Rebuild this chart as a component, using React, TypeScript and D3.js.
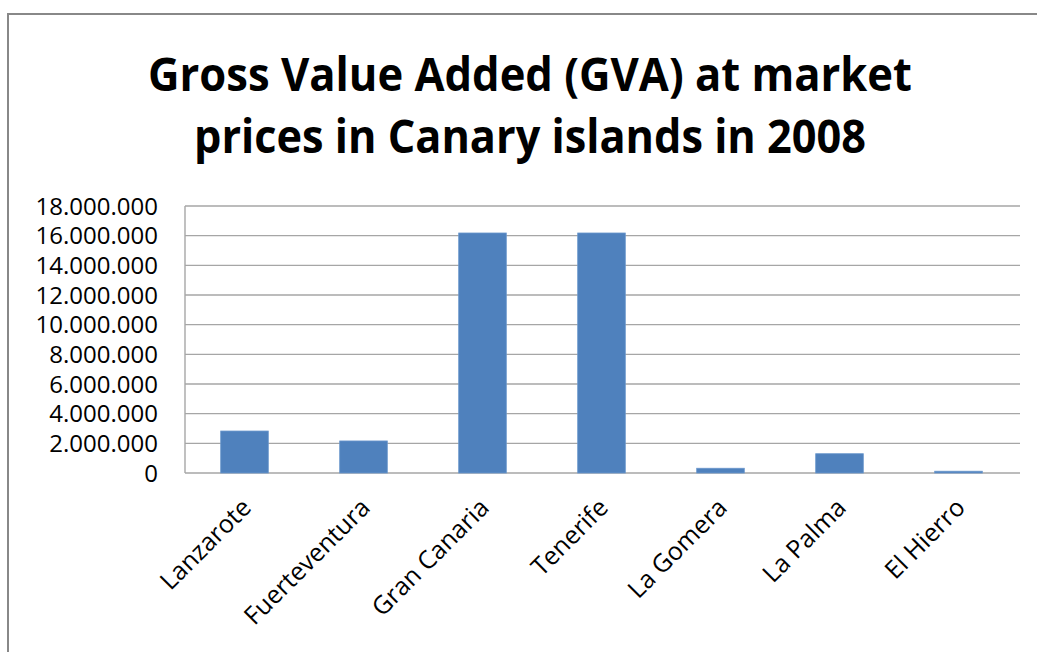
import React from 'react';
import * as d3 from 'd3';

const islands = ['Lanzarote', 'Fuerteventura', 'Gran Canaria', 'Tenerife', 'La Gomera', 'La Palma', 'El Hierro'];
const gva = [2830000, 2160000, 16180000, 16180000, 320000, 1300000, 120000];
const yTicks = [0, 2000000, 4000000, 6000000, 8000000, 10000000, 12000000, 14000000, 16000000, 18000000];
const titleLines = ['Gross Value Added (GVA) at market', 'prices in Canary islands in 2008'];

const W = 1037;
const H = 652;
const plot = { left: 185, right: 1018, top: 206, bottom: 473 };

// thousands with dots, like the Spanish Excel chart
const fmt = (v: number) => d3.format(',')(v).replace(/,/g, '.');

const App: React.FC = () => {
  const x = d3.scaleBand<string>()
    .domain(islands)
    .range([plot.left, plot.right])
    .paddingInner(0.6)
    .paddingOuter(0.3);

  const y = d3.scaleLinear()
    .domain([0, 18000000])
    .range([plot.bottom, plot.top]);

  const font = '"Open Sans", "DejaVu Sans", sans-serif';

  return (
    <svg width={W} height={H} style={{ position: 'absolute', left: 0, top: 0, background: '#fff' }}>
      {/* chart frame, cut off on the right and bottom */}
      <path d={`M8,${H + 5} V14 H${W + 5}`} fill="none" stroke="#888" strokeWidth={2} />

      {titleLines.map((t, i) => (
        <text
          key={i}
          x={530}
          y={91 + i * 62}
          textAnchor="middle"
          fontFamily={font}
          fontWeight="bold"
          fontSize={47}
          textLength={i === 0 ? 764 : 672}
          lengthAdjust="spacingAndGlyphs"
          fill="#000"
        >
          {t}
        </text>
      ))}

      {/* gridlines */}
      {yTicks.map(t => (
        <line key={t} x1={plot.left} x2={1020} y1={y(t)} y2={y(t)} stroke="#a6a6a6" strokeWidth={1.4} />
      ))}
      <line x1={plot.left} x2={plot.left} y1={plot.top} y2={plot.bottom} stroke="#a6a6a6" strokeWidth={1.4} />

      {/* y tick labels */}
      {yTicks.map(t => (
        <text
          key={t}
          x={158}
          y={y(t)}
          dy="0.36em"
          textAnchor="end"
          fontFamily={font}
          fontSize={24}
          fill="#000"
        >
          {fmt(t)}
        </text>
      ))}

      {/* bars */}
      {islands.map((c, i) => (
        <rect
          key={c}
          x={x(c)!}
          y={y(gva[i])}
          width={x.bandwidth()}
          height={y(0) - y(gva[i])}
          fill="#4f81bd"
          stroke="#6a96cc"
          strokeWidth={0.8}
        />
      ))}

      {/* category labels */}
      {islands.map(c => {
        const cx = x(c)! + x.bandwidth() / 2;
        return (
          <text
            key={c}
            transform={`translate(${cx + 2},${plot.bottom + 30}) rotate(-45)`}
            textAnchor="end"
            dy="0.35em"
            fontFamily={font}
            fontSize={25}
            fill="#000"
          >
            {c}
          </text>
        );
      })}
    </svg>
  );
};

export default App;
